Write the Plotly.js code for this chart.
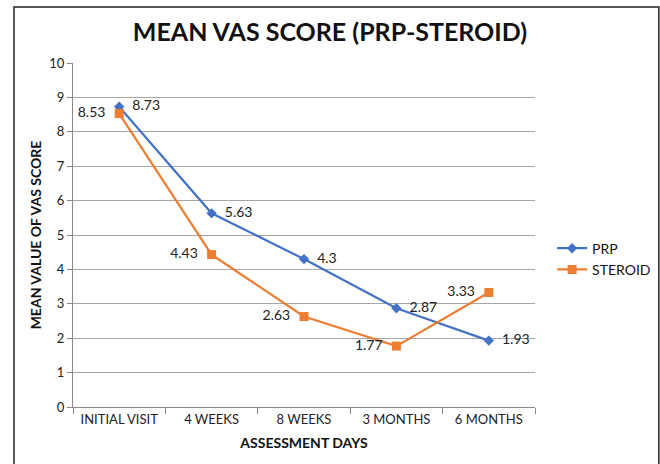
<!DOCTYPE html>
<html>
<head>
<meta charset="utf-8">
<script src="https://cdn.plot.ly/plotly-3.0.1.min.js"></script>
<style>html,body{margin:0;padding:0;background:#fff;}#chart{width:660px;height:464px;}</style>
</head>
<body>
<div id="chart"></div>
<script>
const categories = ["INITIAL VISIT", "4 WEEKS", "8 WEEKS", "3 MONTHS", "6 MONTHS"];
const prpValues = [8.73, 5.63, 4.3, 2.87, 1.93];
const steroidValues = [8.53, 4.43, 2.63, 1.77, 3.33];
const prpLabels = ["8.73", "5.63", "4.3", "2.87", "1.93"];
const steroidLabels = ["8.53", "4.43", "2.63", "1.77", "3.33"];

const FONT = "Lato, 'Open Sans', sans-serif";

const traces = [
  {
    x: categories, y: prpValues, name: "PRP", type: "scatter", mode: "lines+markers+text",
    line: {color: "#4472C4", width: 2.2},
    marker: {symbol: "diamond", size: 8, color: "#4472C4"},
    text: prpLabels, texttemplate: "  %{text}", textposition: "middle right",
    textfont: {family: FONT, size: 14, color: "#222"},
    cliponaxis: false
  },
  {
    x: categories, y: steroidValues, name: "STEROID", type: "scatter", mode: "lines+markers+text",
    line: {color: "#ED7D31", width: 2.2},
    marker: {symbol: "square", size: 9, color: "#ED7D31"},
    text: steroidLabels, texttemplate: "%{text}  ", textposition: "middle left",
    textfont: {family: FONT, size: 14, color: "#222"},
    cliponaxis: false
  }
];

const layout = {
  width: 660, height: 464,
  margin: {l: 73, r: 125, t: 63, b: 57, autoexpand: false},
  paper_bgcolor: "#fff", plot_bgcolor: "#fff",
  font: {family: FONT, color: "#222"},
  title: {text: "<b>MEAN VAS SCORE (PRP-STEROID)</b>", x: 0.5, xanchor: "center", y: 0.93, yanchor: "middle",
          font: {family: FONT, size: 25, color: "#111"}},
  xaxis: {
    type: "category", range: [-0.5, 4.5],
    showgrid: false, showline: true, linecolor: "#888", linewidth: 1,
    ticks: "outside", ticklen: 6, tickcolor: "#888", tickson: "boundaries",
    tickfont: {family: FONT, size: 13, color: "#222"},
    title: {text: "<b>ASSESSMENT DAYS</b>", font: {family: FONT, size: 14, color: "#111"}, standoff: 12},
    fixedrange: true
  },
  yaxis: {
    range: [0, 10], dtick: 1, tick0: 0,
    showgrid: true, gridcolor: "#a6a6a6", gridwidth: 1,
    showline: true, linecolor: "#888", linewidth: 1,
    ticks: "outside", ticklen: 5, tickcolor: "#888",
    zeroline: false,
    tickfont: {family: FONT, size: 13, color: "#222"},
    title: {text: "<b>MEAN VALUE OF VAS SCORE</b>", font: {family: FONT, size: 14, color: "#111"}, standoff: 4},
    fixedrange: true
  },
  legend: {x: 1.037, y: 0.43, xanchor: "left", yanchor: "middle",
           font: {family: FONT, size: 14, color: "#111"}, tracegroupgap: 22, bgcolor: "rgba(0,0,0,0)"},
  showlegend: true,
  shapes: [{type: "rect", xref: "paper", yref: "paper", x0: -0.1277, x1: 1.268, y0: -0.19, y1: 1.163,
            line: {color: "#222", width: 1.5}}]
};

Plotly.newPlot("chart", traces, layout, {displayModeBar: false, staticPlot: true});
</script>
</body>
</html>
